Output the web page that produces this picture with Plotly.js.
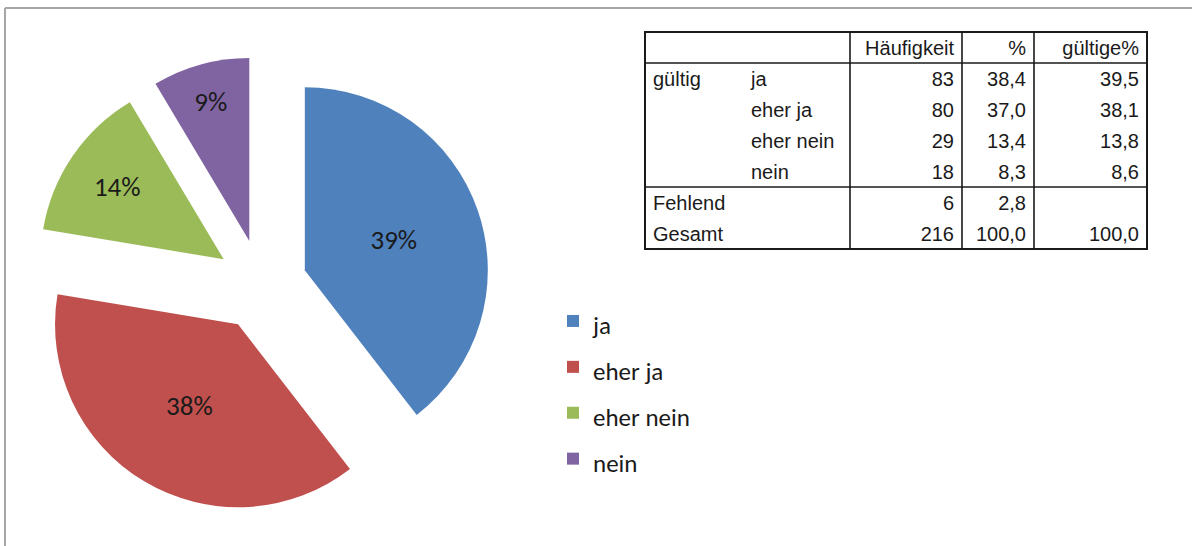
<!DOCTYPE html>
<html>
<head>
<meta charset="utf-8">
<script src="https://cdn.plot.ly/plotly-3.0.1.min.js"></script>
<style>
  html, body { margin: 0; padding: 0; background: #fff; }
  #chart { width: 1192px; height: 546px; }
</style>
</head>
<body>
<div id="chart"></div>
<script>
// ---- data ----
const categories = ['ja', 'eher ja', 'eher nein', 'nein'];
const counts = [83, 80, 29, 18];
const sliceLabels = ['39%', '38%', '14%', '9%'];
const sliceColors = ['#4F81BD', '#C0504D', '#9BBB59', '#8064A2'];

const tableHeader = ['', '', 'Häufigkeit', '%', 'gültige%'];
const rowGroups = ['gültig', '', '', '', 'Fehlend', 'Gesamt'];
const rowLabels = ['ja', 'eher ja', 'eher nein', 'nein', '', ''];
const freq = ['83', '80', '29', '18', '6', '216'];
const pct = ['38,4', '37,0', '13,4', '8,3', '2,8', '100,0'];
const validPct = ['39,5', '38,1', '13,8', '8,6', '', '100,0'];

// ---- layout constants ----
const W = 1192, H = 546;
const px = v => v / W;
const py = v => 1 - v / H;

const pieCx = 261.5, pieCy = 285, pieHalf = 228.75;
const pieFont = 'Carlito, Lato, "Noto Sans", sans-serif';
const tabFont = '"Liberation Sans", Arial, sans-serif';

const tab = { x0: 645, x1: 1147, y0: 32, headerH: 31, rowH: 31 };
const colWidths = [98, 107, 112, 72, 113];
const nRows = freq.length;
const tabBottom = tab.y0 + tab.headerH + nRows * tab.rowH;

const legendLabels = categories.map(c => '<span style="font-size:25px">' + c + '</span>');

const pie = {
  type: 'pie',
  labels: legendLabels,
  values: counts,
  text: sliceLabels,
  textinfo: 'text',
  textposition: 'inside',
  insidetextorientation: 'horizontal',
  sort: false,
  direction: 'clockwise',
  rotation: 0,
  pull: counts.map(() => 0.25),
  marker: { colors: sliceColors, line: { width: 0 } },
  textfont: { family: pieFont, size: 27, color: '#1a1a1a' },
  domain: { x: [px(pieCx - pieHalf), px(pieCx + pieHalf)], y: [py(pieCy + pieHalf), py(pieCy - pieHalf)] },
  hoverinfo: 'none'
};

const table = {
  type: 'table',
  domain: { x: [px(tab.x0), px(tab.x1)], y: [py(tabBottom + 4), py(tab.y0)] },
  columnwidth: colWidths,
  header: {
    values: tableHeader,
    align: ['left', 'left', 'right', 'right', 'right'],
    height: tab.headerH,
    fill: { color: '#ffffff' },
    line: { color: 'rgba(0,0,0,0)', width: 0 },
    font: { family: tabFont, size: 20, color: '#1a1a1a' }
  },
  cells: {
    values: [rowGroups, rowLabels, freq, pct, validPct],
    align: ['left', 'left', 'right', 'right', 'right'],
    height: tab.rowH,
    fill: { color: '#ffffff' },
    line: { color: 'rgba(0,0,0,0)', width: 0 },
    font: { family: tabFont, size: 20, color: '#1a1a1a' }
  },
  hoverinfo: 'none'
};

// table rules
const shapes = [];
const line = (x0, y0, x1, y1, w, c) => shapes.push({
  type: 'line', xref: 'paper', yref: 'paper',
  x0: px(x0), y0: py(y0), x1: px(x1), y1: py(y1),
  line: { color: c, width: w }
});
// outer frame of image
line(5, 8, W + 5, 8, 2, '#a6a6a6');
line(5, 8, 5, H + 5, 2, '#a6a6a6');
// table outer
shapes.push({
  type: 'rect', xref: 'paper', yref: 'paper',
  x0: px(tab.x0), y0: py(tabBottom), x1: px(tab.x1), y1: py(tab.y0),
  line: { color: '#1a1a1a', width: 2 }, fillcolor: 'rgba(0,0,0,0)'
});
let cx = tab.x0;
colWidths.forEach((w, i) => {
  cx += w;
  if (i >= 1 && i < colWidths.length - 1) line(cx, tab.y0, cx, tabBottom, 1.6, '#1a1a1a');
});
line(tab.x0, tab.y0 + tab.headerH, tab.x1, tab.y0 + tab.headerH, 1.6, '#1a1a1a');
line(tab.x0, tab.y0 + tab.headerH + 4 * tab.rowH, tab.x1, tab.y0 + tab.headerH + 4 * tab.rowH, 1.6, '#1a1a1a');

const layout = {
  width: W, height: H,
  margin: { l: 0, r: 0, t: 0, b: 0, pad: 0 },
  paper_bgcolor: '#ffffff',
  plot_bgcolor: '#ffffff',
  showlegend: true,
  legend: {
    x: px(553), xanchor: 'left',
    y: (H - 390) / H, yanchor: 'middle',
    font: { family: pieFont, size: 33, color: '#1a1a1a' },
    bgcolor: 'rgba(0,0,0,0)',
    traceorder: 'normal'
  },
  shapes: shapes
};

Plotly.newPlot('chart', [pie, table], layout, { displayModeBar: false, staticPlot: true });
</script>
</body>
</html>
